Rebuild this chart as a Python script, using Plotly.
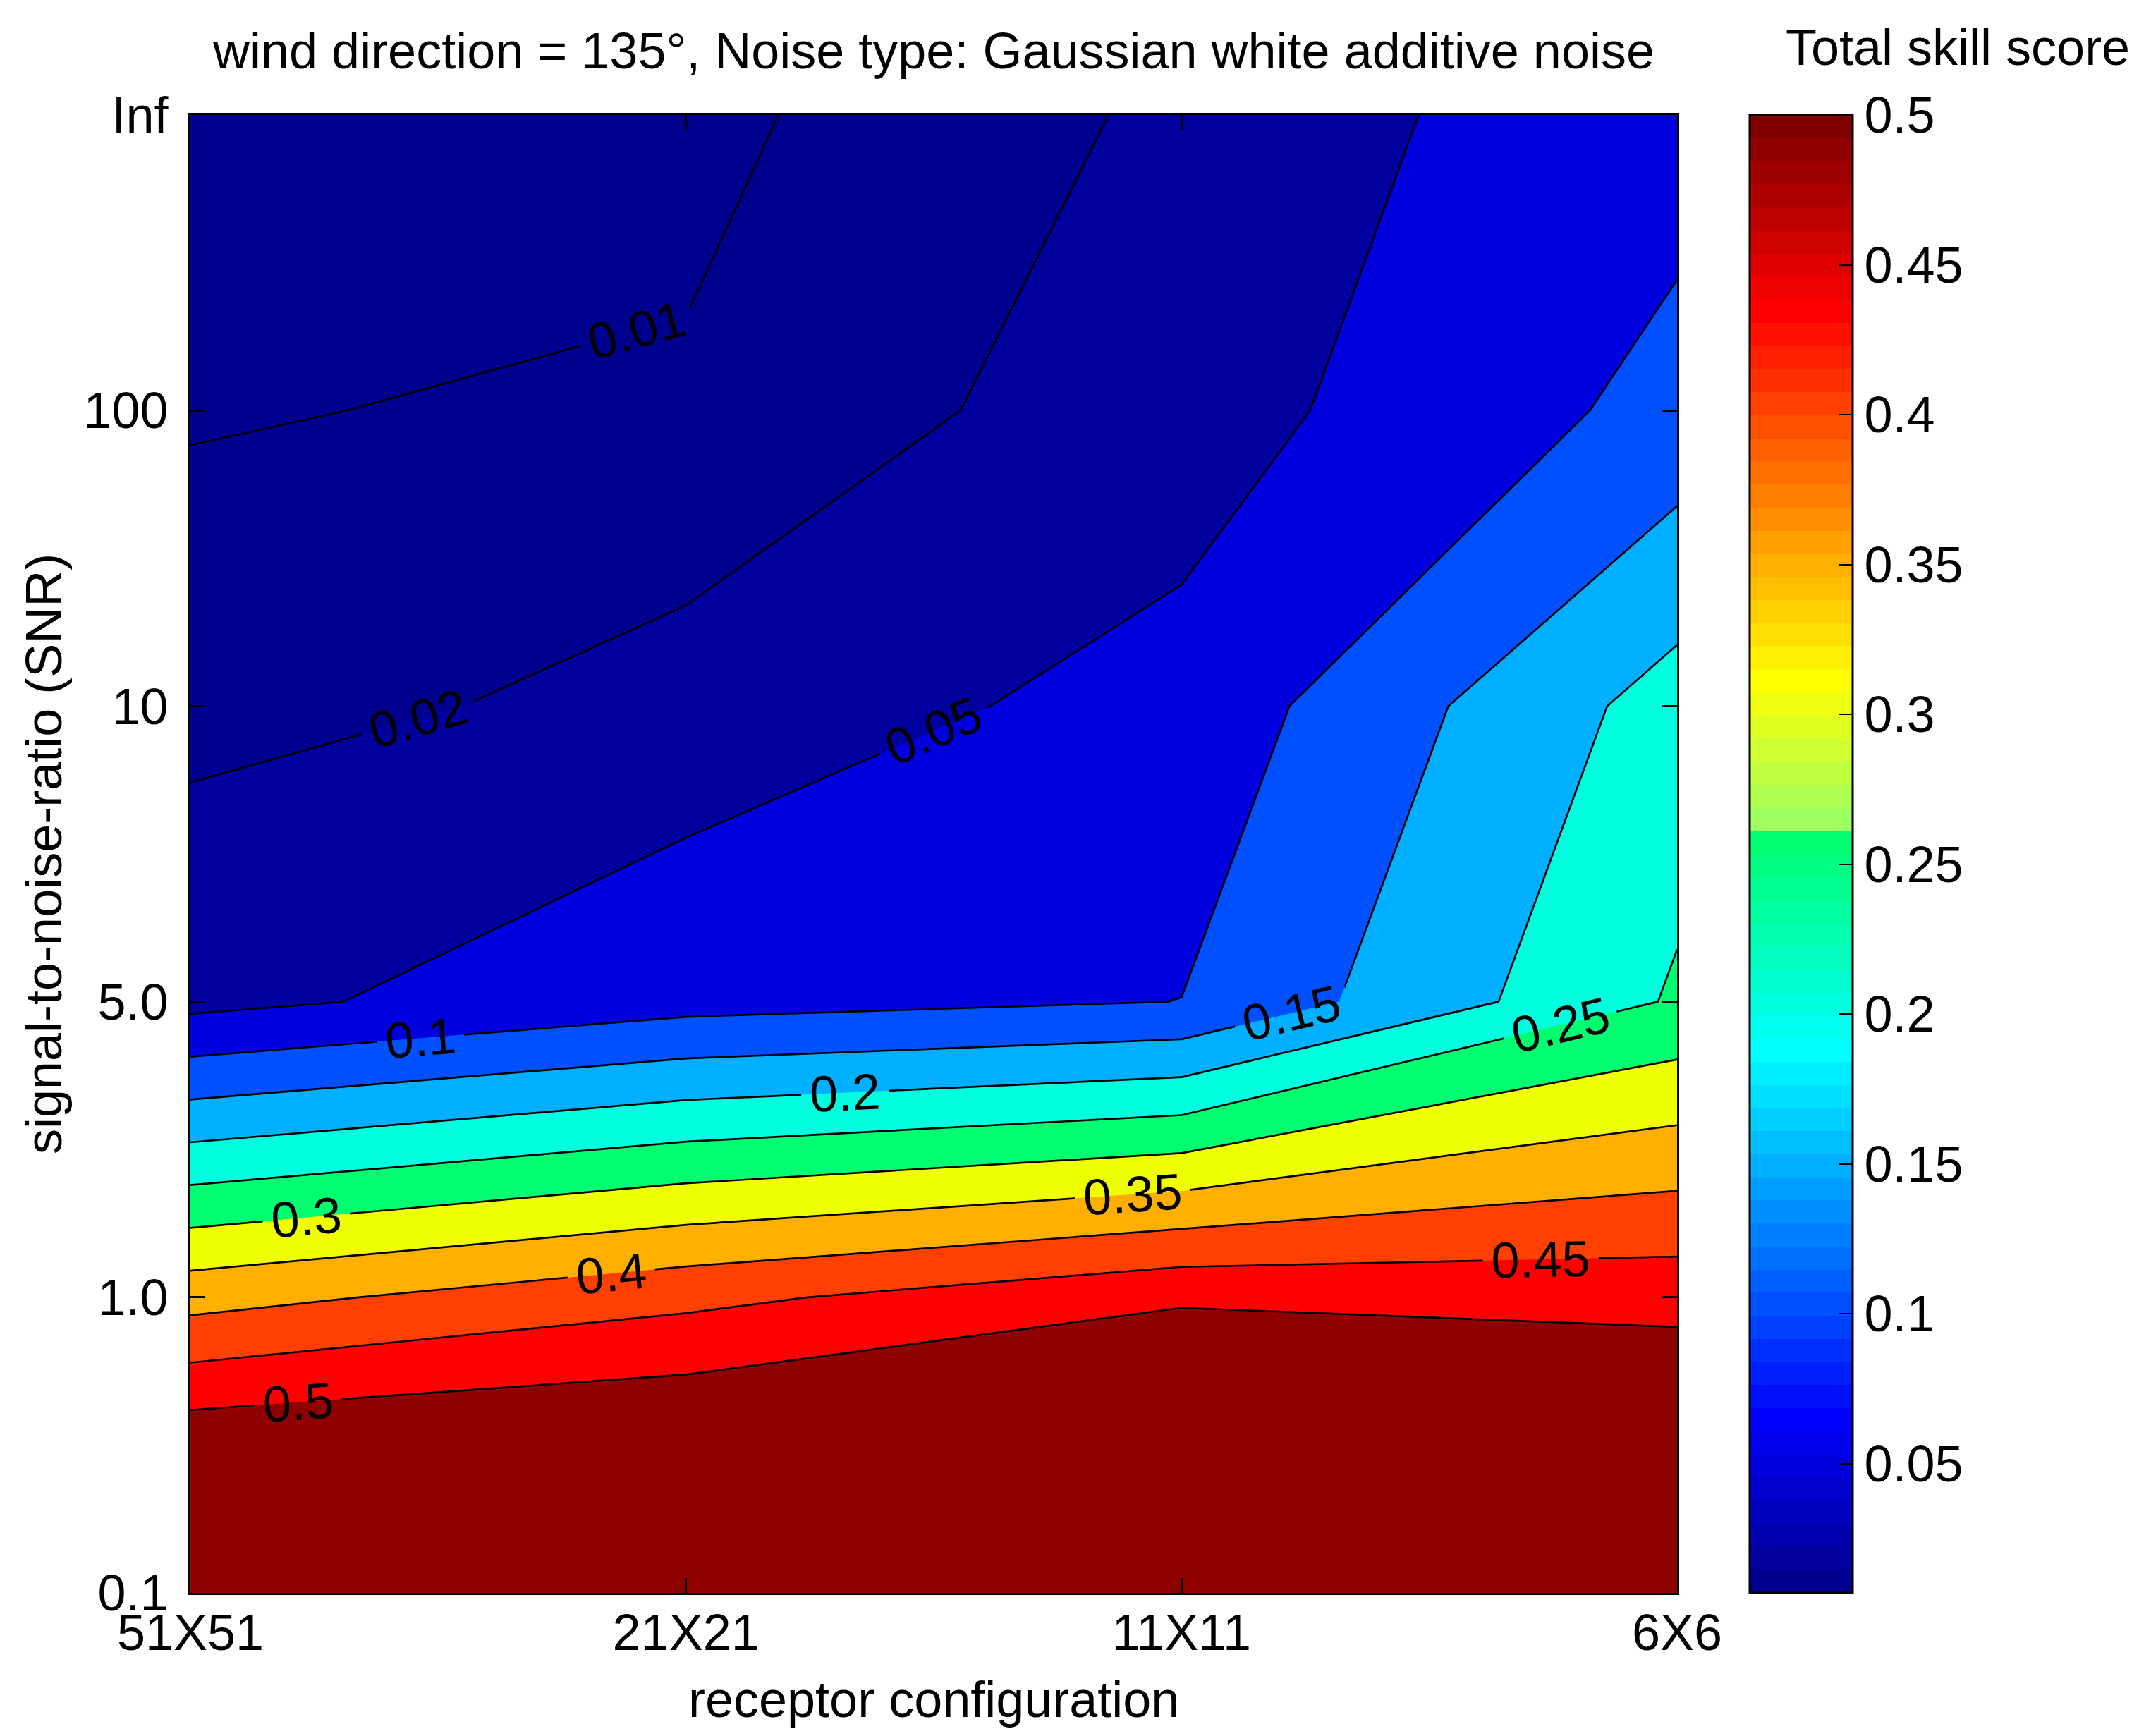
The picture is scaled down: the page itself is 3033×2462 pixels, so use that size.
import numpy as np
import plotly.graph_objects as go

# receptor configurations (x) and SNR levels (y), evenly spaced on the axes
receptor_configs = ["51X51", "21X21", "11X11", "6X6"]
snr_labels = ["0.1", "1.0", "5.0", "10", "100", "Inf"]

# total skill score per configuration, SNR from 0.1 up to Inf
skill_51x51 = [0.693, 0.381, 0.0358, 0.0145, 0.0094, 0.0069]
skill_21x21 = [0.678, 0.437, 0.0818, 0.0245, 0.0113, 0.0072]
skill_11x11 = [0.770, 0.490, 0.1005, 0.066, 0.027, 0.0222]
skill_6x6 = [0.670, 0.481, 0.256, 0.222, 0.1156, 0.0803]

# contour levels drawn (and labelled) in the figure
contour_levels = [0.01, 0.02, 0.05, 0.1, 0.15, 0.2, 0.25, 0.3, 0.35, 0.4, 0.45, 0.5]
# fill colour of each band: below first level, then above each level
band_colors = ["#00008F", "#00008F", "#00009F", "#0000DF", "#0050FF", "#00AFFF",
               "#00FFDF", "#00FF70", "#EFFF00", "#FFAF00", "#FF4000", "#FF0000", "#8F0000"]

cbar_ticks = [0.05, 0.1, 0.15, 0.2, 0.25, 0.3, 0.35, 0.4, 0.45, 0.5]
cmin, cmax = 0.0069, 0.5

FONT = "Liberation Sans, Arial, sans-serif"
W, H = 3033, 2462
L, R, T, B = 262, 2370, 155, 2251   # plot area in pixels


def jet(m=64, red_from=0):
    """MATLAB style jet colormap (red channel can be cut below an index)"""
    n = int(np.ceil(m / 4))
    u = np.concatenate([np.arange(1, n + 1) / n, np.ones(n - 1), np.arange(n, 0, -1) / n])
    g = int(np.ceil(n / 2)) - (1 if m % 4 == 1 else 0) + np.arange(1, len(u) + 1)
    r, b = g + n, g - n
    J = np.zeros((m, 3))
    k = r <= m
    J[r[k] - 1, 0] = u[k]
    k = g <= m
    J[g[k] - 1, 1] = u[k]
    k = b >= 1
    J[b[k] - 1, 2] = u[k]
    J[:red_from, 0] = 0
    return ["rgb(%d,%d,%d)" % tuple(np.round(c * 255)) for c in J]


def step_scale(colors):
    n = len(colors)
    out = []
    for i, c in enumerate(colors):
        out += [[i / n, c], [(i + 1) / n, c]]
    return out


x = list(range(len(receptor_configs)))
y = list(range(len(snr_labels)))
Z = np.array([skill_51x51, skill_21x21, skill_11x11, skill_6x6]).T

# fine uniform levels (0.01 apart) so the non-uniform bands can be coloured;
# fill of band above level L is sampled at colorscale position 2*L
fine = np.round(np.arange(0.01, 0.5001, 0.01), 2)
fill_scale = [[0.0, band_colors[0]]]
for i, lev in enumerate(fine):
    band = sum(1 for c in contour_levels if c <= lev + 1e-9)
    fill_scale.append([min(1.0, (i + 1) / len(fine)), band_colors[band]])

fig = go.Figure()

# hidden heatmap only provides the colorbar
fig.add_trace(go.Heatmap(
    x=x, y=y, z=Z, zmin=cmin, zmax=cmax, colorscale=step_scale(jet(64, red_from=33)),
    hoverinfo="skip", showlegend=False,
    colorbar=dict(
        x=(2473 - L) / (R - L), xanchor="left", xpad=0, ypad=0,
        y=0.5, yanchor="middle", len=1, lenmode="fraction",
        thickness=146, thicknessmode="pixels",
        outlinewidth=3, outlinecolor="black",
        tickvals=cbar_ticks, ticktext=[f"{v:g}" for v in cbar_ticks],
        ticks="inside", ticklen=20, tickwidth=2, tickcolor="black",
        tickfont=dict(family=FONT, size=72, color="black"),
    ),
))

fig.add_trace(go.Contour(
    x=x, y=y, z=Z, autocontour=False,
    contours=dict(start=0.01, end=0.5, size=0.01, coloring="fill", showlines=False),
    colorscale=fill_scale, showscale=False, line=dict(width=0, smoothing=0),
    hoverinfo="skip", showlegend=False,
))

# contour lines with inline labels
for start, end, size in [(0.05, 0.5, 0.05), (0.01, 0.02, 0.01)]:
    fig.add_trace(go.Contour(
        x=x, y=y, z=Z, autocontour=False, showscale=False, hoverinfo="skip",
        showlegend=False,
        contours=dict(start=start, end=end, size=size, coloring="none",
                      showlabels=True, labelformat=".2~f",
                      labelfont=dict(family=FONT, size=72, color="black")),
        line=dict(color="black", width=2.7, smoothing=0),
    ))

axis_common = dict(
    ticks="inside", ticklen=21, tickwidth=2.5, tickcolor="black",
    showline=True, linewidth=3, linecolor="black", mirror="ticks",
    showgrid=False, zeroline=False,
    tickfont=dict(family=FONT, size=72, color="black"),
)

fig.update_layout(
    width=W, height=H,
    margin=dict(l=L, r=W - R, t=T, b=H - B, pad=0),
    paper_bgcolor="white", plot_bgcolor="white",
    showlegend=False,
    font=dict(family=FONT, color="black"),
    title=dict(text="wind direction = 135°, Noise type: Gaussian white additive noise",
               x=0.5, xref="paper", xanchor="center",
               y=1 - 64 / H, yref="container", yanchor="middle",
               font=dict(family=FONT, size=72, color="black")),
    xaxis=dict(range=[0, 3], tickvals=x, ticktext=receptor_configs, ticklabelstandoff=-8,
               **axis_common),
    yaxis=dict(range=[0, 5], tickvals=y, ticktext=snr_labels, ticklabelstandoff=14, **axis_common),
    annotations=[
        dict(text="receptor configuration", xref="paper", yref="paper",
             x=0.5, y=(B - 2402) / (B - T), xanchor="center", yanchor="middle",
             showarrow=False, font=dict(family=FONT, size=72)),
        dict(text="signal-to-noise-ratio (SNR)", xref="paper", yref="paper",
             x=(54 - L) / (R - L), y=0.5, xanchor="center", yanchor="middle",
             textangle=-90, showarrow=False, font=dict(family=FONT, size=72)),
        dict(text="Total skill score", xref="paper", yref="paper",
             x=(2768 - L) / (R - L), y=(B - 59) / (B - T), xanchor="center", yanchor="middle",
             showarrow=False, font=dict(family=FONT, size=72)),
    ],
)

fig.write_html("out.html")
